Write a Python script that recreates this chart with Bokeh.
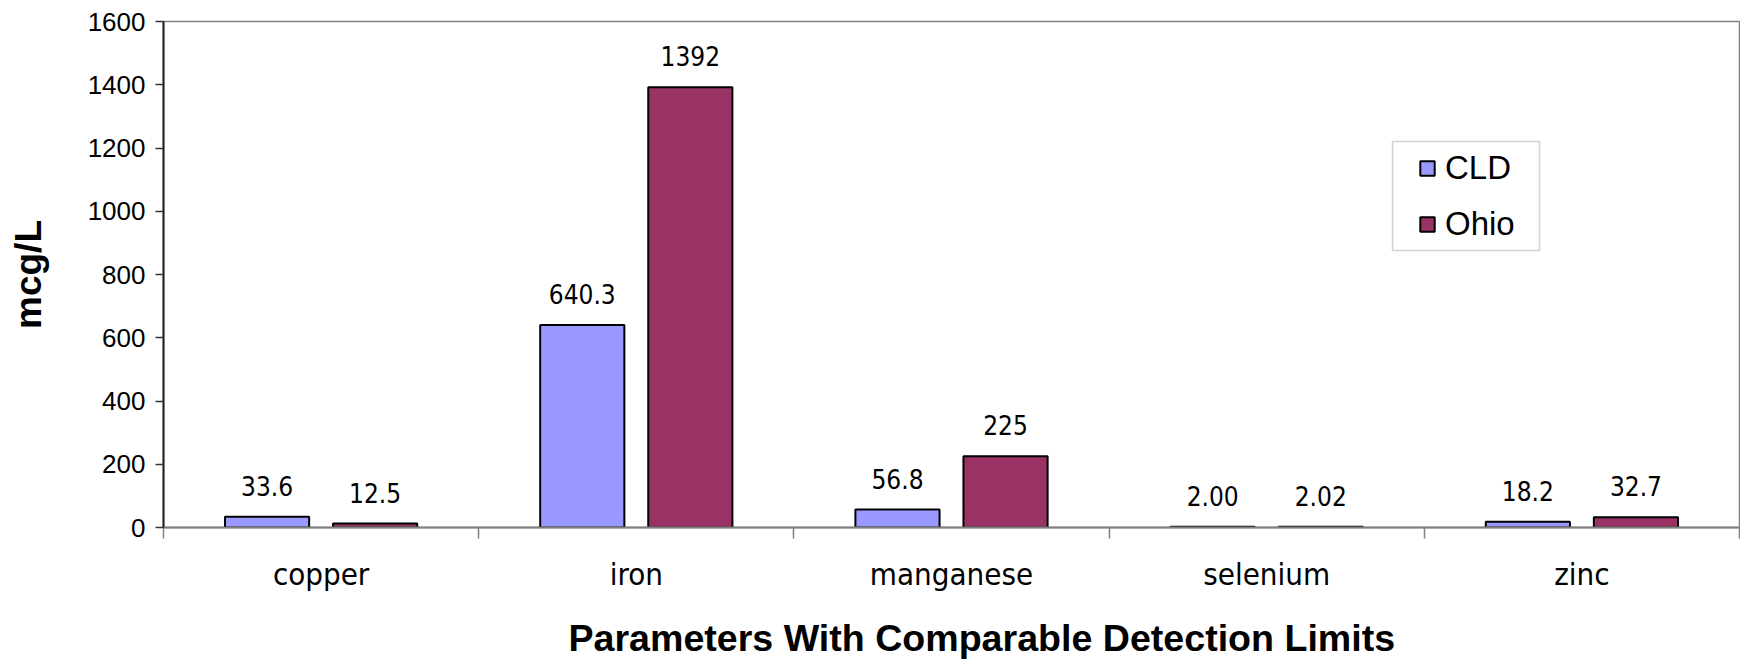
from bokeh.plotting import figure
from bokeh.models import (ColumnDataSource, Range1d, FixedTicker, Legend, LegendItem, Title,
                          BoxAnnotation, LinearAxis)
from bokeh.transform import dodge
from bokeh.core.properties import value
from bokeh.embed import file_html
from bokeh.resources import INLINE

# ---- data ----
categories = ["copper", "iron", "manganese", "selenium", "zinc"]
cld_values = [33.6, 640.3, 56.8, 2.00, 18.2]
ohio_values = [12.5, 1392, 225, 2.02, 32.7]
cld_labels = ["33.6", "640.3", "56.8", "2.00", "18.2"]
ohio_labels = ["12.5", "1392", "225", "2.02", "32.7"]
series_names = ["CLD", "Ohio"]
y_ticks = [0, 200, 400, 600, 800, 1000, 1200, 1400, 1600]

# ---- styling ----
CLD_COLOR = "#9999FF"
OHIO_COLOR = "#993366"
NARROW = "DejaVu Sans Condensed, Liberation Sans"
SANS = "Liberation Sans"
BAR_W = 0.267
OFF = 0.1714

n = len(categories)
x_centers = list(range(n))
src = ColumnDataSource(dict(x=x_centers, cld=cld_values, ohio=ohio_values,
                            cld_lbl=cld_labels, ohio_lbl=ohio_labels))

p = figure(width=1740, height=659,
           x_range=Range1d(-0.5, n - 0.5), y_range=Range1d(y_ticks[0], y_ticks[-1]),
           output_backend="svg", toolbar_location=None,
           min_border_left=163, min_border_right=1, min_border_top=21, min_border_bottom=132)

p.background_fill_color = "white"
p.border_fill_color = "white"
p.outline_line_color = "#808080"
p.outline_line_width = 1.5
p.xgrid.visible = False
p.ygrid.visible = False

r1 = p.vbar(x=dodge("x", -OFF), top="cld", width=BAR_W, source=src,
            fill_color=CLD_COLOR, line_color="black", line_width=2)
r2 = p.vbar(x=dodge("x", OFF), top="ohio", width=BAR_W, source=src,
            fill_color=OHIO_COLOR, line_color="black", line_width=2)

lbl_kw = dict(text_align="center", text_baseline="alphabetic", y_offset=-31,
              text_font=value(NARROW), text_font_size="26px", text_color="black", source=src)
p.text(x=dodge("x", -OFF), y="cld", text="cld_lbl", **lbl_kw)
p.text(x=dodge("x", OFF), y="ohio", text="ohio_lbl", **lbl_kw)

# y axis
ya = p.yaxis[0]
ya.ticker = FixedTicker(ticks=y_ticks)
ya.major_tick_out = 8
ya.major_tick_in = 0
ya.minor_tick_line_color = None
ya.major_tick_line_color = "#333333"
ya.major_tick_line_width = 1.5
ya.axis_line_color = "#222222"
ya.axis_line_width = 2
ya.major_label_standoff = 10
ya.major_label_text_font = SANS
ya.major_label_text_font_size = "26px"
ya.major_label_text_color = "black"

# y title carried by an invisible outer axis
ya2 = LinearAxis(ticker=FixedTicker(ticks=[]),
                 axis_line_color=None, major_tick_line_color=None,
                 minor_tick_line_color=None, major_tick_out=0, minor_tick_out=0,
                 major_label_text_font_size="0px",
                 axis_label="mcg/L", axis_label_standoff=36,
                 axis_label_text_font=SANS, axis_label_text_font_size="37px",
                 axis_label_text_font_style="bold", axis_label_text_color="black")
p.add_layout(ya2, "left")

# x axis
xa = p.xaxis[0]
xa.ticker = FixedTicker(ticks=x_centers, minor_ticks=[i - 0.5 for i in range(n + 1)])
xa.major_label_overrides = {i: c for i, c in enumerate(categories)}
xa.major_tick_line_color = None
xa.major_tick_out = 0
xa.major_tick_in = 0
xa.minor_tick_out = 11
xa.minor_tick_in = 0
xa.minor_tick_line_color = "#808080"
xa.minor_tick_line_width = 1.5
xa.axis_line_color = "#808080"
xa.axis_line_width = 2
xa.major_label_standoff = 17
xa.major_label_text_font = NARROW
xa.major_label_text_font_size = "31px"
xa.major_label_text_color = "black"
# blank spacer below the category labels
xa.axis_label = " "
xa.axis_label_standoff = 12
xa.axis_label_text_font_size = "4px"

# x title
xt = Title(text="Parameters With Comparable Detection Limits", align="left", offset=405,
           standoff=0, text_line_height=1.0,
           text_font=SANS, text_font_size="37.6px", text_font_style="bold",
           text_color="black")
p.add_layout(xt, "below")

# legend frame + legend
box = BoxAnnotation(left=1229, right=1376, bottom=277, top=386,
                    left_units="screen", right_units="screen",
                    bottom_units="screen", top_units="screen",
                    fill_color="white", fill_alpha=1,
                    line_color="#666666", line_width=1.5)
p.add_layout(box)

legend = Legend(items=[LegendItem(label=series_names[0], renderers=[r1]),
                       LegendItem(label=series_names[1], renderers=[r2])],
                location=(1230, 259), orientation="vertical",
                border_line_color="white", border_line_alpha=0, background_fill_alpha=0,
                padding=25, spacing=18, margin=0,
                glyph_width=18, glyph_height=18, label_standoff=9,
                label_height=38, label_text_font=SANS, label_text_font_size="33px",
                label_text_color="black")
p.add_layout(legend)

open("out.html", "w").write(file_html(p, INLINE))
